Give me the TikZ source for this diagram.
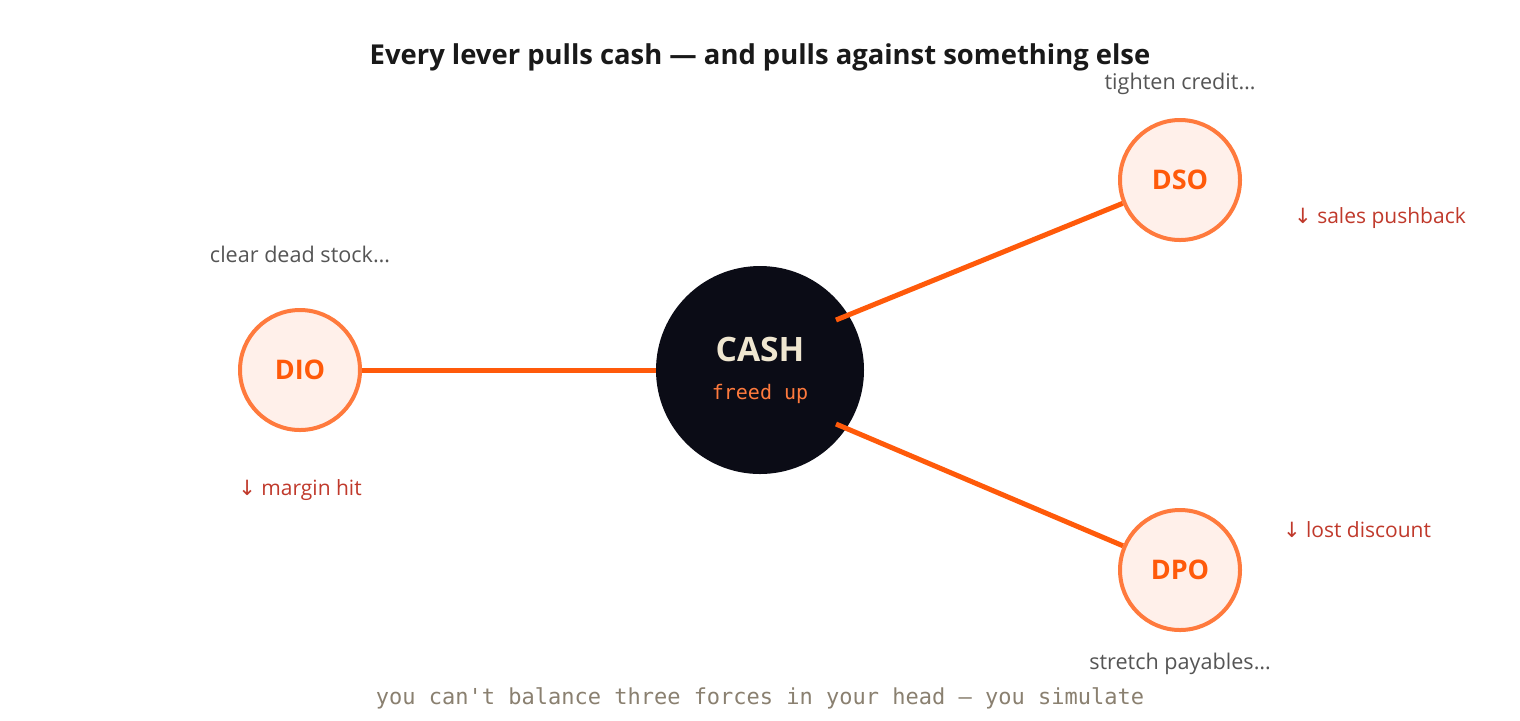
\documentclass[tikz,border=0pt]{standalone}
\usepackage{fontspec}
\setmainfont{Open Sans}
\setsansfont{Open Sans}
\setmonofont{DejaVu Sans Mono}
\newfontfamily\arrowfont{DejaVu Sans}
\definecolor{lever}{HTML}{FF5A0A}
\definecolor{leverring}{HTML}{FF7A3D}
\definecolor{leverfill}{HTML}{FFF0EA}
\definecolor{cashdark}{HTML}{0B0C16}
\definecolor{cream}{HTML}{EFE6D0}
\definecolor{freed}{HTML}{FF7A3D}
\definecolor{costred}{HTML}{C0392B}
\definecolor{actgray}{HTML}{555555}
\definecolor{footgray}{HTML}{8A8070}
\begin{document}
\begin{tikzpicture}[x=0.5pt,y=-0.5pt,
  levernode/.style={circle,draw=leverring,line width=2pt,fill=leverfill,minimum size=60pt,inner sep=0pt,text=lever,font=\fontsize{13.5}{15}\selectfont\bfseries},
  cashnode/.style={circle,fill=cashdark,minimum size=104pt,inner sep=0pt},
  link/.style={draw=lever,line width=2.5pt},
  action/.style={text=actgray,font=\fontsize{10.8}{12}\selectfont,inner sep=0pt},
  cost/.style={text=costred,font=\fontsize{10.5}{12}\selectfont,inner sep=0pt}]
\useasboundingbox (0,0) rectangle (1520,720);
\fill[white] (0,0) rectangle (1520,720);
\node[font=\fontsize{13.7}{15}\selectfont\bfseries,text=black!90,inner sep=0pt] (title) at (760,57) {Every lever pulls cash — and pulls against something else};
\node[cashnode] (cash) at (760,370) {};
\node[text=cream,font=\fontsize{16.8}{18}\selectfont\bfseries,inner sep=0pt] (cashlbl) at (760,349) {CASH};
\node[text=freed,font=\fontsize{10}{12}\selectfont\ttfamily,inner sep=0pt] (freed) at (760,394) {freed up};
\node[levernode] (dio) at (300,370) {DIO};
\node[levernode] (dso) at (1180,180) {DSO};
\node[levernode] (dpo) at (1180,570) {DPO};
\coordinate (cdso) at (836,320);
\coordinate (cdpo) at (836,424);
\draw[link] (dio) -- (cash);
\draw[link] (cdso) -- (dso);
\draw[link] (cdpo) -- (dpo);
\node[action] (a1) at (1180,84) {tighten credit…};
\node[cost] (c1) at (1380,218) {{\arrowfont ↓} sales pushback};
\node[action] (a2) at (300,254) {clear dead stock…};
\node[cost] (c2) at (300,490) {{\arrowfont ↓} margin hit};
\node[cost] (c3) at (1357,530) {{\arrowfont ↓} lost discount};
\node[action] (a3) at (1180,664) {stretch payables…};
\node[text=footgray,font=\fontsize{11}{13}\selectfont\ttfamily,inner sep=0pt] (foot) at (760,698) {you can't balance three forces in your head — you simulate};
\end{tikzpicture}
\end{document}
